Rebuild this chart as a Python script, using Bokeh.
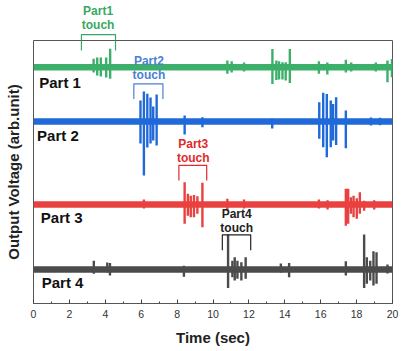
from bokeh.plotting import figure
from bokeh.layouts import column
from bokeh.models import Label, SingleIntervalTicker, FixedTicker, Range1d
from bokeh.embed import file_html
from bokeh.resources import INLINE

# ---------------- data ----------------
time_span = [0, 20]                      # sec
part_names = ["Part 1", "Part 2", "Part 3", "Part 4"]
part_colors = ["#3cb06a", "#1f69d9", "#e9413f", "#4b4b4b"]
label_colors = ["#3aa862", "#4b7fd4", "#e02a2c", "#222222"]
baselines = [8.98, 6.92, 3.76, 1.29]     # arb. unit offsets of each trace

# spikes: time (sec), amplitude above baseline, amplitude below baseline (arb. unit)
p1_t    = [3.35, 3.55, 3.75, 4.05, 4.27, 10.8, 11.04, 11.73, 13.31, 13.53, 13.68, 13.87, 14.05, 14.28,
           15.9, 16.37, 17.4, 17.7, 19.07, 19.72, 19.97]
p1_up   = [0.33, 0.37, 0.37, 0.37, 0.71, 0.26, 0.23, 0.18, 0.70, 0.26, 0.23, 0.19, 0.19, 0.70,
           0.23, 0.18, 0.29, 0.18, 0.18, 0.26, 0.32]
p1_down = [0.20, 0.31, 0.35, 0.39, 0.43, 0.24, 0.20, 0.16, 0.63, 0.48, 0.46, 0.46, 0.50, 0.60,
           0.24, 0.27, 0.20, 0.16, 0.16, 0.57, 0.38]

p2_t    = [5.96, 6.15, 6.34, 6.52, 6.67, 6.86, 8.42, 9.41, 13.3, 15.92, 16.14, 16.34, 16.56, 16.69,
           16.86, 17.4, 18.8, 19.3]
p2_up   = [0.80, 1.14, 1.06, 0.91, 0.57, 1.03, 0.23, 0.16, 0.11, 0.73, 1.09, 1.05, 0.80, 0.67,
           0.92, 0.42, 0.15, 0.14]
p2_down = [0.84, 2.05, 0.99, 0.84, 0.72, 0.91, 0.49, 0.22, 0.27, 0.66, 0.98, 1.36, 0.98, 0.72,
           0.89, 1.02, 0.15, 0.14]

p3_t    = [6.15, 8.42, 8.60, 8.76, 8.94, 9.13, 9.41, 10.8, 11.73, 15.9, 16.38, 17.4, 17.53, 17.68,
           17.83, 18.01, 18.18, 18.42, 18.98]
p3_up   = [0.19, 0.85, 0.41, 0.34, 0.37, 0.32, 0.83, 0.22, 0.19, 0.19, 0.17, 0.60, 0.60, 0.28,
           0.34, 0.24, 0.47, 0.15, 0.17]
p3_down = [0.15, 0.73, 0.42, 0.48, 0.48, 0.35, 0.86, 0.19, 0.15, 0.15, 0.19, 0.80, 0.73, 0.35,
           0.48, 0.54, 0.35, 0.23, 0.19]

p4_t    = [3.36, 4.11, 4.26, 8.38, 10.84, 11.08, 11.21, 11.36, 11.58, 11.82, 13.78, 14.24, 17.4,
           18.42, 18.57, 18.76, 18.94, 19.11, 19.72]
p4_up   = [0.34, 0.27, 0.25, 0.15, 1.33, 0.34, 0.47, 0.34, 0.28, 0.47, 0.23, 0.25, 0.32,
           1.33, 0.47, 0.34, 0.70, 0.66, 0.19]
p4_down = [0.16, 0.11, 0.23, 0.27, 0.70, 0.29, 0.42, 0.35, 0.42, 0.35, 0.11, 0.29, 0.23,
           0.70, 0.54, 0.42, 0.61, 0.54, 0.15]

spike_t = [p1_t, p2_t, p3_t, p4_t]
spike_up = [p1_up, p2_up, p3_up, p4_up]
spike_down = [p1_down, p2_down, p3_down, p4_down]

# "touch" brackets: start time, end time, top level, leg bottom level
touch_start = [2.67, 5.59, 8.10, 10.52]
touch_end = [4.57, 7.21, 9.65, 12.10]
touch_top = [10.22, 8.35, 5.25, 2.61]
touch_bottom = [9.62, 7.78, 4.68, 2.02]
touch_text1 = ["Part1", "Part2", "Part3", "Part4"]
touch_text2 = ["touch", "touch", "touch", "touch"]
touch_label_x = [3.60, 6.43, 8.90, 11.32]
touch_label_y1 = [11.14, 9.21, 6.07, 3.41]
touch_label_y2 = [10.60, 8.67, 5.52, 2.88]

# trace name labels
name_x = [0.32, 0.20, 0.41, 0.46]
name_y = [8.42, 6.39, 3.28, 0.81]

FONT = "Liberation Sans"
PX_PER_UNIT = 26.3
TOP_H = 40
Y_MAX = 10

x_range = Range1d(*time_span)

# main plot
p = figure(width=407, height=351 - TOP_H, x_range=x_range, y_range=Range1d(0, Y_MAX),
           output_backend="svg", toolbar_location=None,
           min_border_left=33, min_border_right=15, min_border_top=0, min_border_bottom=48)
p.background_fill_color = "white"
p.border_fill_color = "white"
p.grid.visible = False
p.outline_line_color = "#555555"
p.outline_line_width = 1

# strip above the frame (for the Part1 touch note)
top = figure(width=407, height=TOP_H, x_range=x_range,
             y_range=Range1d(Y_MAX, Y_MAX + TOP_H / PX_PER_UNIT),
             output_backend="svg", toolbar_location=None,
             x_axis_location=None, y_axis_location=None,
             min_border_left=33, min_border_right=15, min_border_top=0, min_border_bottom=0)
top.background_fill_color = "white"
top.border_fill_color = "white"
top.grid.visible = False
top.outline_line_color = None

# x axis
xa = p.xaxis[0]
xa.ticker = SingleIntervalTicker(interval=2, num_minor_ticks=2)
xa.axis_line_color = None
xa.major_tick_in = 4
xa.major_tick_out = 0
xa.minor_tick_in = 2
xa.minor_tick_out = 0
xa.major_tick_line_color = "#444444"
xa.minor_tick_line_color = "#444444"
xa.major_label_text_font = FONT
xa.major_label_text_font_size = "10.5px"
xa.major_label_text_color = "#333333"
xa.major_label_standoff = 6
xa.axis_label = "Time (sec)"
xa.axis_label_text_font = FONT
xa.axis_label_text_font_style = "bold"
xa.axis_label_text_font_size = "15px"
xa.axis_label_text_color = "#222222"
xa.axis_label_standoff = 8

# y axis (title only)
ya = p.yaxis[0]
ya.ticker = FixedTicker(ticks=[])
ya.axis_line_color = None
ya.major_tick_out = 0
ya.major_tick_in = 0
ya.minor_tick_out = 0
ya.minor_tick_in = 0
ya.axis_label = "Output Voltage (arb.unit)"
ya.axis_label_text_font = FONT
ya.axis_label_text_font_style = "bold"
ya.axis_label_text_font_size = "15px"
ya.axis_label_text_color = "#222222"
ya.axis_label_standoff = 12

for i in range(4):
    base = baselines[i]
    col = part_colors[i]
    # baseline trace
    p.line(x=time_span, y=[base, base], line_color=col, line_width=6.5)
    # spikes
    y0 = [base - d for d in spike_down[i]]
    y1 = [base + u for u in spike_up[i]]
    p.segment(x0=spike_t[i], y0=y0, x1=spike_t[i], y1=y1, line_color=col, line_width=2.4)
    # name label
    p.add_layout(Label(x=name_x[i], y=name_y[i], text=part_names[i], text_font=FONT,
                       text_font_style="bold", text_font_size="15px", text_color="#111111",
                       text_align="left", text_baseline="middle"))
    # touch bracket: drawn in whichever panel(s) it reaches; each clips to its own frame
    xs = [touch_start[i], touch_start[i], touch_end[i], touch_end[i]]
    ys = [touch_bottom[i], touch_top[i], touch_top[i], touch_bottom[i]]
    bracket_figs = [p] + ([top] if touch_top[i] > Y_MAX else [])
    for fig in bracket_figs:
        fig.line(x=xs, y=ys, line_color=label_colors[i], line_width=1.2, line_join="round")
    for txt, yy in ((touch_text1[i], touch_label_y1[i]), (touch_text2[i], touch_label_y2[i])):
        fig = top if yy > Y_MAX else p
        fig.add_layout(Label(x=touch_label_x[i], y=yy, text=txt, text_font=FONT,
                             text_font_style="bold", text_font_size="12px",
                             text_color=label_colors[i],
                             text_align="center", text_baseline="middle"))

layout = column(top, p, spacing=0)
open("out.html", "w").write(file_html(layout, INLINE))
